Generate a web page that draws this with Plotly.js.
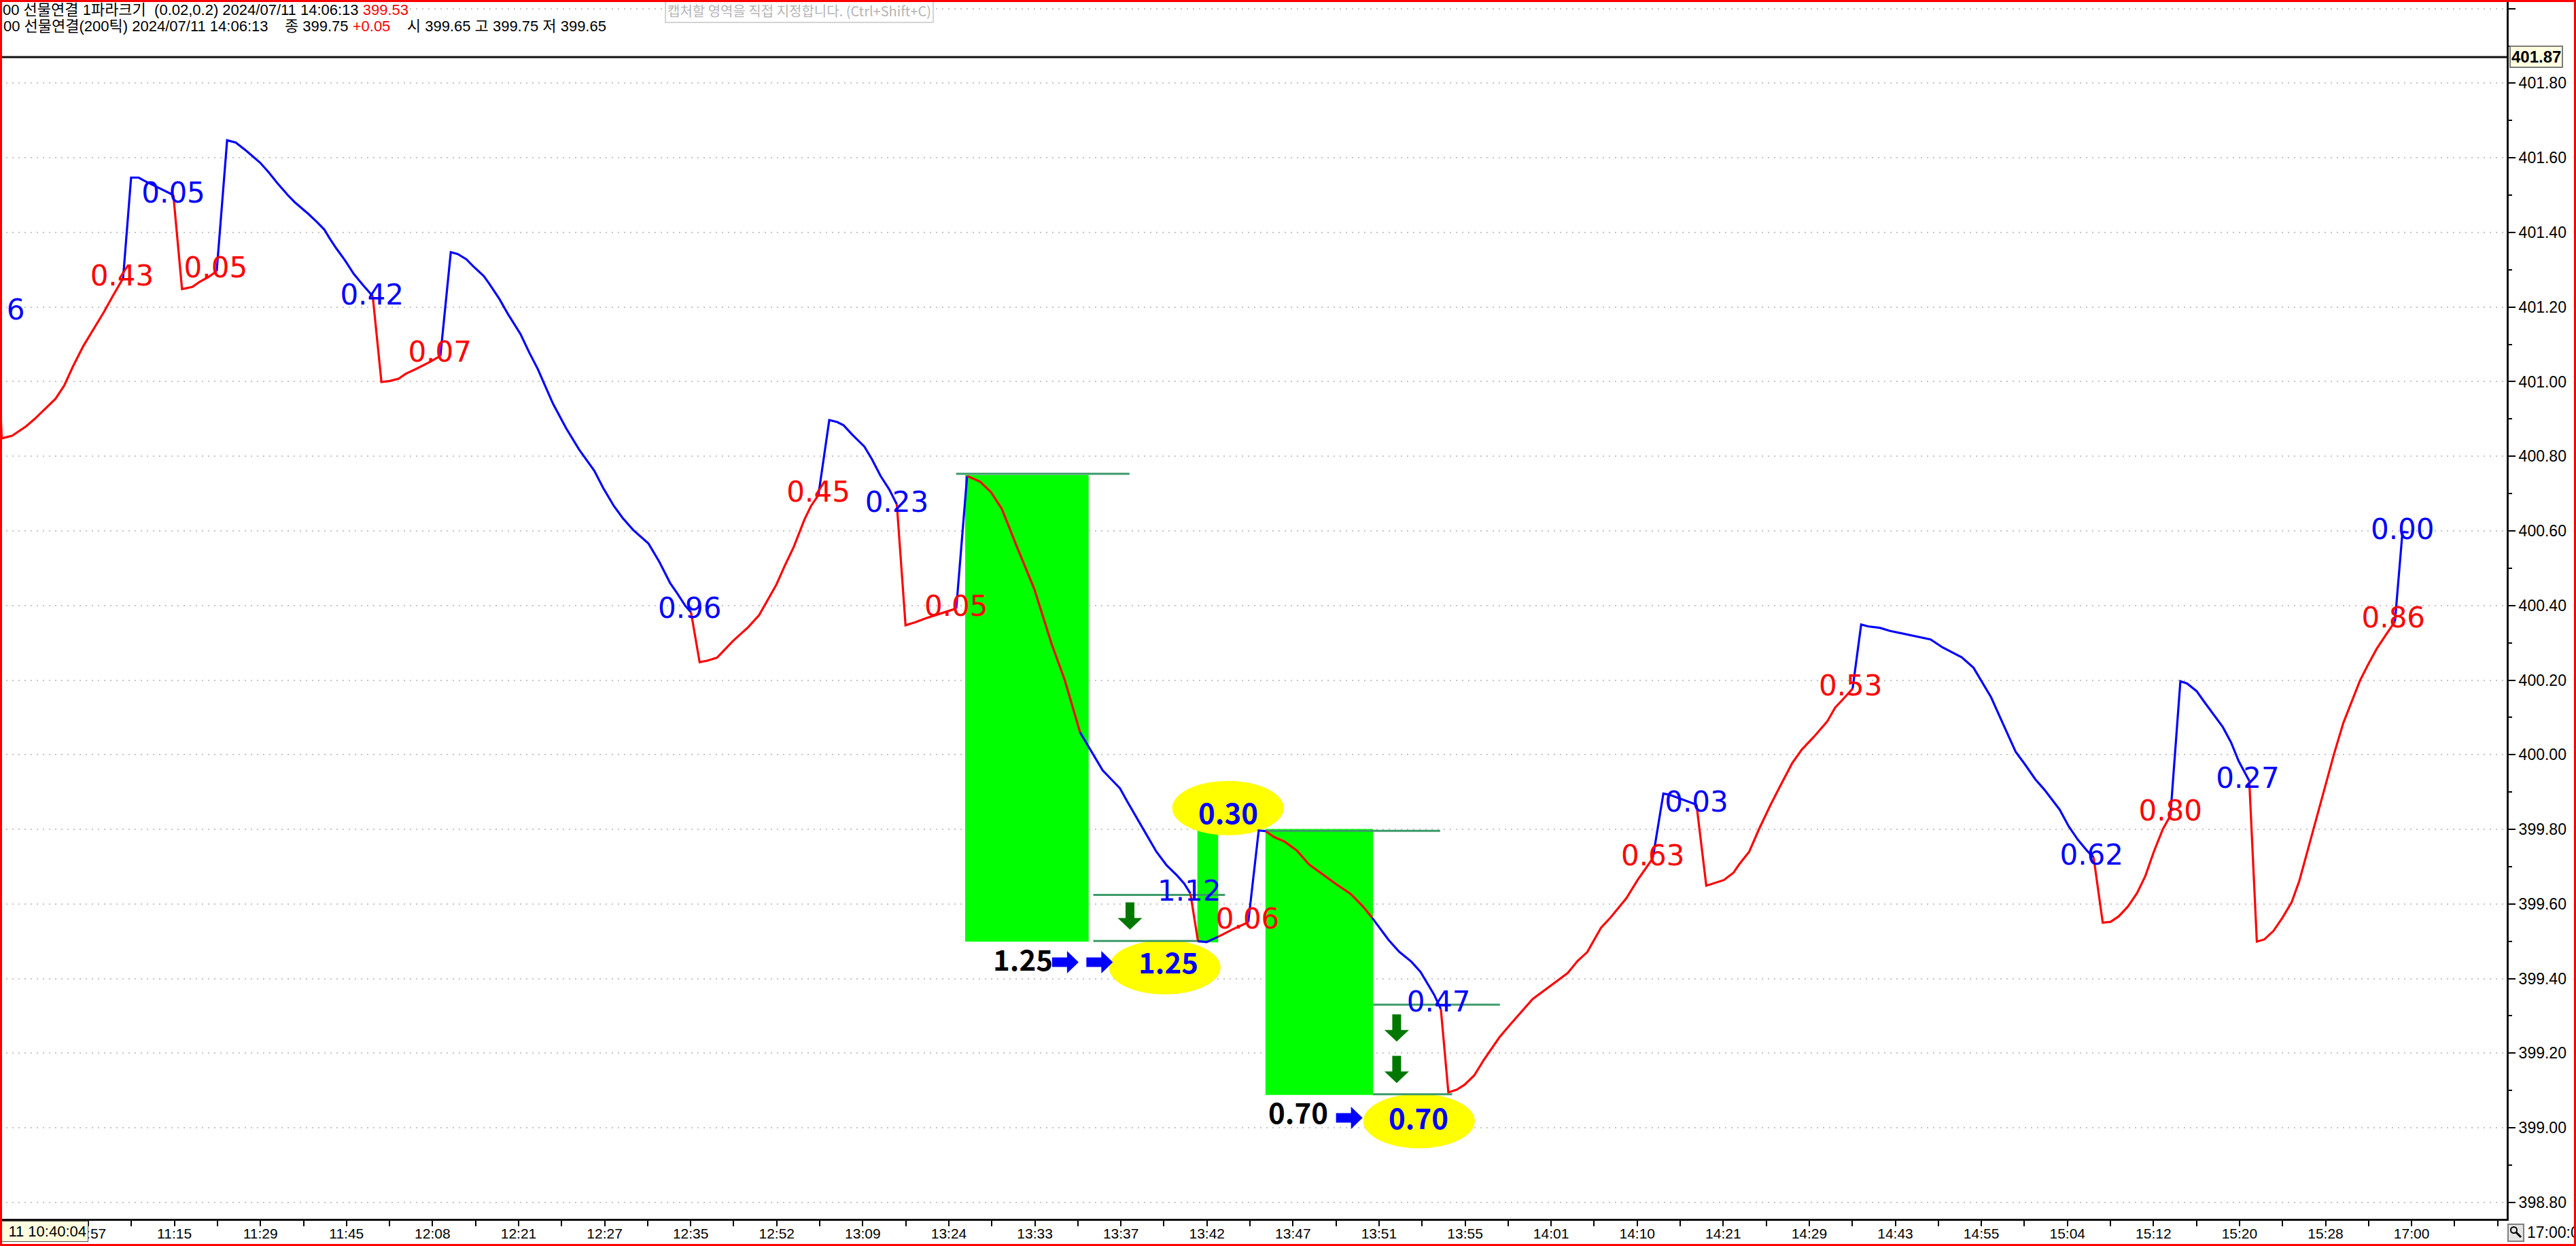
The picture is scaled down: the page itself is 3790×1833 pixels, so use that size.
<!DOCTYPE html>
<html>
<head>
<meta charset="utf-8">
<script src="https://cdn.plot.ly/plotly-3.0.1.min.js"></script>
<style>
html,body{margin:0;padding:0;background:#fff;}
#wrap{position:relative;width:3790px;height:1833px;overflow:hidden;}
#chart{position:absolute;left:0;top:0;width:3790px;height:1833px;}
#frame{position:absolute;left:0;top:0;width:3790px;height:1833px;box-sizing:border-box;border:3px solid #ff0000;pointer-events:none;z-index:10;}
</style>
</head>
<body>
<div id="wrap"><div id="chart"></div><div id="frame"></div></div>
<script>
// ---------- DATA ----------
// x axis tick labels (one label every two tick marks)
const xLabels = ['10:57','11:15','11:29','11:45','12:08','12:21','12:27','12:35','12:52','13:09','13:24','13:33','13:37','13:42','13:47','13:51','13:55','14:01','14:10','14:21','14:29','14:43','14:55','15:04','15:12','15:20','15:28','17:00'];

// Parabolic SAR line, split in runs; colours alternate starting with red
const sarStartX = -2.06, sarStartY = 400.970;
const sarXRuns = [
 [-2.014,-1.772,-1.449,-1.248,-0.764,-0.563,-0.361,-0.120,0.122,0.364,0.565,0.807],
 [0.993,1.170,1.291,1.573,1.976],
 [2.177,2.419,2.580,2.782,2.983],
 [3.225,3.427,3.669,3.991,4.192,4.394,4.636,4.797,5.119,5.321,5.482,5.603,5.764,5.966,6.167,6.368,6.610],
 [6.812,7.013,7.215,7.376,7.618,7.940,8.182],
 [8.424,8.585,8.786,8.948,9.190,9.310,9.552,9.754,10.047,10.248,10.450,10.601,10.803,11.105,11.407,11.760,11.961,12.213,12.415,12.667,13.019,13.271,13.523,13.674,13.876,14.007],
 [14.208,14.380,14.611,14.984,15.337,15.589,15.992,16.193,16.395,16.647,16.798,16.969],
 [17.221,17.402,17.553,17.755,18.037,18.208,18.410,18.611,18.792],
 [18.994,19.216,19.468,19.770,20.173],
 [20.425],
 [20.727,20.979,21.231,21.584,21.987,22.389,22.692,23.050],
 [23.455,23.576,23.777,23.978,24.140,24.341,24.583,24.825,25.066,25.308,25.469,25.615],
 [25.792],
 [25.993,26.260],
 [26.598,26.960],
 [27.203,27.364],
 [27.565,27.807,28.089,28.371,28.694,29.016,29.338,29.620,29.838],
 [30.024,30.225,30.467,30.753,30.963,31.121,31.279,31.437],
 [31.611,31.806,31.984,32.210,32.437,32.800,33.072,33.570,33.843,34.387,34.613,34.840,35.158,35.384,35.747,36.019,36.246,36.364],
 [36.609,36.745,37.379],
 [37.606,38.014,38.241,38.377,38.604,38.830,39.102,39.329,39.601,39.828,40.100,40.417,40.599,40.826,41.007],
 [41.206,41.370,41.642,41.869,42.186,42.549,42.821,43.093,43.546,43.818,44.226,44.498,44.797,45.008,45.255,45.467,45.819,46.031,46.243,46.454,46.609],
 [46.821,47.004,47.195,47.406,47.618,47.808,48.006,48.217,48.394],
 [48.626,48.781,49.007,49.204,49.416,49.613,49.804,49.980,50.227],
 [50.403,50.580,50.791,51.003,51.214,51.391,51.602,51.779,51.990,52.202,52.413,52.625,52.801,52.978,53.189,53.401,53.613],
 [53.788,53.929]
];
const sarYRuns = [
 [400.848,400.855,400.880,400.900,400.954,400.989,401.040,401.095,401.142,401.187,401.229,401.277],
 [401.547,401.547,401.539,401.523,401.500],
 [401.248,401.254,401.267,401.280,401.296],
 [401.647,401.641,401.619,401.587,401.561,401.532,401.500,401.481,401.449,401.427,401.408,401.385,401.357,401.325,401.289,401.261,401.229],
 [400.999,401.002,401.008,401.021,401.034,401.053,401.069],
 [401.347,401.342,401.328,401.309,401.283,401.264,401.222,401.181,401.127,401.078,401.033,400.993,400.940,400.875,400.818,400.761,400.716,400.667,400.635,400.602,400.566,400.517,400.460,400.435,400.399,400.382],
 [400.248,400.252,400.260,400.305,400.342,400.374,400.456,400.508,400.557,400.631,400.667,400.696],
 [400.897,400.892,400.883,400.858,400.826,400.793,400.748,400.712,400.671],
 [400.347,400.355,400.366,400.377,400.392],
 [400.747],
 [400.732,400.704,400.659,400.557,400.444,400.297,400.201,400.060],
 [399.983,399.958,399.934,399.910,399.876,399.837,399.788,399.740,399.703,399.676,399.655,399.628],
 [399.500],
 [399.498,399.512],
 [399.532,399.551],
 [399.797,399.795],
 [399.779,399.767,399.743,399.706,399.679,399.652,399.627,399.594,399.563],
 [399.533,399.503,399.472,399.445,399.418,399.387,399.357,399.318],
 [399.095,399.102,399.115,399.140,399.182,399.243,399.280,399.345,399.368,399.415,399.447,399.471,399.536,399.564,399.615,399.666,399.703,399.723],
 [399.896,399.893,399.866],
 [399.649,399.664,399.684,399.707,399.740,399.800,399.866,399.917,399.977,400.014,400.047,400.089,400.126,400.154,400.177],
 [400.349,400.344,400.340,400.332,400.324,400.316,400.309,400.288,400.261,400.233,400.154,400.084,400.008,399.975,399.934,399.906,399.853,399.808,399.772,399.743,399.725],
 [399.550,399.552,399.567,399.593,399.629,399.674,399.739,399.800,399.837],
 [400.197,400.191,400.170,400.138,400.105,400.074,400.033,399.983,399.930],
 [399.499,399.505,399.528,399.564,399.605,399.662,399.751,399.829,399.918,400.004,400.085,400.146,400.199,400.239,400.284,400.321,400.357],
 [400.597,400.596]
];

// swing labels at the flip points
const labelText = ['6','0.43','0.05','0.05','0.42','0.07','0.96','0.45','0.23','0.05','1.12','0.06','0.47','0.63','0.03','0.53','0.62','0.80','0.27','0.86','0.00'];
const labelX    = [-1.69,0.78,1.976,2.96,6.59,8.17,13.977,16.969,18.79,20.17,25.59,26.945,31.385,36.364,37.379,40.96,46.56,48.394,50.19,53.577,53.79];
const labelY    = [401.186,401.277,401.500,401.299,401.225,401.073,400.385,400.697,400.671,400.392,399.627,399.554,399.330,399.723,399.866,400.179,399.724,399.843,399.930,400.361,400.597];
const labelSide = ['B','R','B','R','B','R','B','R','B','R','B','R','B','R','B','R','B','R','B','R','B'];

// drawn annotations: green boxes, level lines, ovals, arrows, bold numbers
const boxX0 = [20.38, 25.777, 27.36];
const boxX1 = [23.25, 26.26, 29.86];
const boxY0 = [399.499, 399.497, 399.088];
const boxY1 = [400.750, 399.797, 399.801];

const lvlX0 = [20.17, 23.358, 23.36, 27.30, 29.86, 29.86];
const lvlX1 = [24.20, 26.42, 25.79, 31.42, 32.81, 31.70];
const lvlY  = [400.753, 399.624, 399.501, 399.796, 399.330, 399.090];

const ovalX = [26.49, 25.02, 30.93];
const ovalY = [399.857, 399.430, 399.018];

const rArrowX = [22.40, 23.197, 29.00];
const rArrowY = [399.444, 399.444, 399.0265];
const dArrowX = [24.21, 30.41, 30.41];
const dArrowY = [399.604, 399.304, 399.193];

const boldText  = ['1.25','1.25','0.30','0.70','0.70'];
const boldX     = [21.72, 25.11, 26.50, 28.12, 30.91];
const boldY     = [399.454, 399.448, 399.848, 399.044, 399.030];
const boldColor = ['#000000','#0000ff','#0000ff','#000000','#0000ff'];

const lastPrice = 401.87;

// ---------- LAYOUT GEOMETRY ----------
const X0 = -2.054, X1 = 56.21, Y0 = 398.756, Y1 = 402.023;
const W = 3790, H = 1833, ML = 0, MR = 102, MT = 0, MB = 40;
const PW = W - ML - MR, PH = H - MT - MB;
const kx = PW / (X1 - X0), ky = PH / (Y1 - Y0);
const RED = '#ff0000', BLUE = '#0000ff';

// ---------- TRACES ----------
const traces = [];
let px = sarStartX, py = sarStartY;
sarXRuns.forEach((xs, i) => {
  const ys = sarYRuns[i];
  traces.push({
    type: 'scatter', mode: 'lines', x: [px].concat(xs), y: [py].concat(ys),
    line: {color: i % 2 === 0 ? RED : BLUE, width: 3.2}, hoverinfo: 'skip', cliponaxis: true
  });
  px = xs[xs.length - 1]; py = ys[ys.length - 1];
});
['R','B'].forEach(side => {
  const idx = labelSide.map((s, i) => s === side ? i : -1).filter(i => i >= 0);
  traces.push({
    type: 'scatter', mode: 'text',
    x: idx.map(i => labelX[i]), y: idx.map(i => labelY[i]), text: idx.map(i => labelText[i]),
    textposition: 'middle center', cliponaxis: true, hoverinfo: 'skip',
    textfont: {family: 'DejaVu Sans', size: 42, color: side === 'R' ? RED : BLUE}
  });
});

// ---------- SHAPES ----------
const shapes = [];
boxX0.forEach((x0, i) => shapes.push({type: 'rect', xref: 'x', yref: 'y', x0: x0, x1: boxX1[i], y0: boxY0[i], y1: boxY1[i],
  fillcolor: '#00ff00', line: {width: 0}, layer: 'between'}));
ovalX.forEach((cx, i) => shapes.push({type: 'circle', xref: 'x', yref: 'y',
  x0: cx - 82 / kx, x1: cx + 82 / kx, y0: ovalY[i] - 40 / ky, y1: ovalY[i] + 40 / ky,
  fillcolor: '#ffff00', line: {width: 0}, layer: 'between'}));
lvlX0.forEach((x0, i) => shapes.push({type: 'line', xref: 'x', yref: 'y', x0: x0, x1: lvlX1[i], y0: lvlY[i], y1: lvlY[i],
  line: {color: '#3c9a6a', width: 3}, layer: 'between'}));
shapes.push({type: 'line', xref: 'paper', yref: 'y', x0: 0, x1: 1, y0: lastPrice, y1: lastPrice,
  line: {color: '#111111', width: 3}, layer: 'between'});

function downArrow(cx, top) {
  const sw = 6.5 / kx, hw = 18 / kx, sh = 23 / ky, hh = 17 / ky;
  return `M${cx - sw},${top} L${cx + sw},${top} L${cx + sw},${top - sh} L${cx + hw},${top - sh} L${cx},${top - sh - hh} L${cx - hw},${top - sh} L${cx - sw},${top - sh} Z`;
}
function rightArrow(tx, cy) {
  const sl = 22 / kx, hl = 17 / kx, sh = 7 / ky, hh = 16.5 / ky;
  return `M${tx},${cy + sh} L${tx + sl},${cy + sh} L${tx + sl},${cy + hh} L${tx + sl + hl},${cy} L${tx + sl},${cy - hh} L${tx + sl},${cy - sh} L${tx},${cy - sh} Z`;
}
dArrowX.forEach((cx, i) => shapes.push({type: 'path', xref: 'x', yref: 'y', path: downArrow(cx, dArrowY[i]),
  fillcolor: '#007800', line: {width: 0}, layer: 'above'}));
rArrowX.forEach((tx, i) => shapes.push({type: 'path', xref: 'x', yref: 'y', path: rightArrow(tx, rArrowY[i]),
  fillcolor: '#0000ff', line: {width: 0}, layer: 'above'}));

// magnifier button at bottom right
const pxX = p => (p - ML) / PW, pxY = p => (H - MB - p) / PH;
shapes.push({type: 'rect', xref: 'paper', yref: 'paper', x0: pxX(3690), x1: pxX(3713), y0: pxY(1826), y1: pxY(1801),
  fillcolor: '#e4e4e4', line: {color: '#808080', width: 2}, layer: 'above'});
shapes.push({type: 'circle', xref: 'paper', yref: 'paper', x0: pxX(3694), x1: pxX(3703), y0: pxY(1814), y1: pxY(1805),
  fillcolor: 'rgba(0,0,0,0)', line: {color: '#000', width: 2}, layer: 'above'});
shapes.push({type: 'line', xref: 'paper', yref: 'paper', x0: pxX(3702), x1: pxX(3709), y0: pxY(1813), y1: pxY(1820),
  line: {color: '#000', width: 3}, layer: 'above'});

// ---------- ANNOTATIONS ----------
const annotations = [];
boldText.forEach((t, i) => annotations.push({xref: 'x', yref: 'y', x: boldX[i], y: boldY[i], text: '<b>' + t + '</b>',
  showarrow: false, xanchor: 'center', yanchor: 'middle',
  font: {family: 'Noto Sans CJK KR, Liberation Sans', size: 42, color: boldColor[i]}}));

const NB = '\u00a0';
annotations.push({xref: 'paper', yref: 'paper', x: pxX(3), y: pxY(15), xanchor: 'left', yanchor: 'middle', showarrow: false,
  text: '00 선물연결 1파라크기' + NB + NB + '(0.02,0.2) 2024/07/11 14:06:13 <span style="color:#ff0000">399.53</span>',
  bgcolor: '#ffffff', borderpad: 0, font: {family: 'Liberation Sans, Noto Sans CJK KR', size: 22, color: '#000'}});
annotations.push({xref: 'paper', yref: 'paper', x: pxX(3), y: pxY(39), xanchor: 'left', yanchor: 'middle', showarrow: false,
  text: '00 선물연결(200틱) 2024/07/11 14:06:13' + NB + NB + NB + ' 종 399.75 <span style="color:#ff0000">+0.05</span>' + NB + NB + NB + ' 시 399.65 고 399.75 저 399.65',
  font: {family: 'Liberation Sans, Noto Sans CJK KR', size: 22, color: '#000'}});
annotations.push({xref: 'paper', yref: 'paper', x: pxX(978), y: pxY(16), xanchor: 'left', yanchor: 'middle', showarrow: false,
  text: '캡처할 영역을 직접 지정합니다. (Ctrl+Shift+C)', bgcolor: '#ffffff', bordercolor: '#d4d4d4', borderwidth: 2, borderpad: 2,
  font: {family: 'Noto Sans CJK KR', size: 20, color: '#b4b4b4'}});
annotations.push({xref: 'paper', yref: 'y', x: pxX(3692), y: lastPrice, xanchor: 'left', yanchor: 'middle', showarrow: false,
  text: '<b>' + lastPrice.toFixed(2) + '</b>', bgcolor: '#ffffe0', bordercolor: '#7a7a7a', borderwidth: 2, borderpad: 1,
  font: {family: 'Liberation Sans', size: 24, color: '#000'}});
annotations.push({xref: 'paper', yref: 'paper', x: pxX(0), y: pxY(1811), xanchor: 'left', yanchor: 'middle', showarrow: false,
  text: '11 10:40:04', width: 124, align: 'right', bgcolor: '#ffffe0', bordercolor: '#555555', borderwidth: 1, borderpad: 2,
  font: {family: 'Liberation Sans', size: 22, color: '#000'}});
annotations.push({xref: 'paper', yref: 'paper', x: pxX(3716), y: pxY(1813), xanchor: 'left', yanchor: 'middle', showarrow: false,
  text: '17:00:00', font: {family: 'Liberation Sans', size: 23, color: '#000'}});

// ---------- AXES ----------
const xTickVals = [], xTickText = [];
for (let t = -2; t <= 56; t++) {
  xTickVals.push(t);
  const li = t / 2;
  xTickText.push(t >= 0 && t % 2 === 0 && li < xLabels.length ? xLabels[li] : '');
}

const layout = {
  width: W, height: H,
  margin: {l: ML, r: MR, t: MT, b: MB, pad: 0},
  paper_bgcolor: '#ffffff', plot_bgcolor: '#ffffff',
  showlegend: false, hovermode: false,
  xaxis: {
    range: [X0, X1], tickmode: 'array', tickvals: xTickVals, ticktext: xTickText,
    ticks: 'outside', ticklen: 8, tickwidth: 2, tickcolor: '#000', ticklabelstandoff: -7,
    showline: true, linecolor: '#111', linewidth: 3, showgrid: false, zeroline: false,
    tickfont: {family: 'Liberation Sans', size: 21, color: '#000'}, fixedrange: true
  },
  yaxis: {
    range: [Y0, Y1], side: 'right', tickmode: 'linear', tick0: 400, dtick: 0.2, tickformat: '.2f',
    ticks: 'outside', ticklen: 10, tickwidth: 2, tickcolor: '#000',
    showline: true, linecolor: '#111', linewidth: 3, zeroline: false,
    showgrid: true, gridcolor: '#c4c4c4', gridwidth: 2, griddash: '2px,7px',
    minor: {tickmode: 'linear', tick0: 400, dtick: 0.1, ticks: 'outside', ticklen: 5, tickwidth: 2, tickcolor: '#000', showgrid: false},
    tickfont: {family: 'Liberation Sans', size: 23, color: '#000'}, fixedrange: true
  },
  shapes: shapes,
  annotations: annotations
};

Plotly.newPlot('chart', traces, layout, {displayModeBar: false, staticPlot: true});
</script>
</body>
</html>
